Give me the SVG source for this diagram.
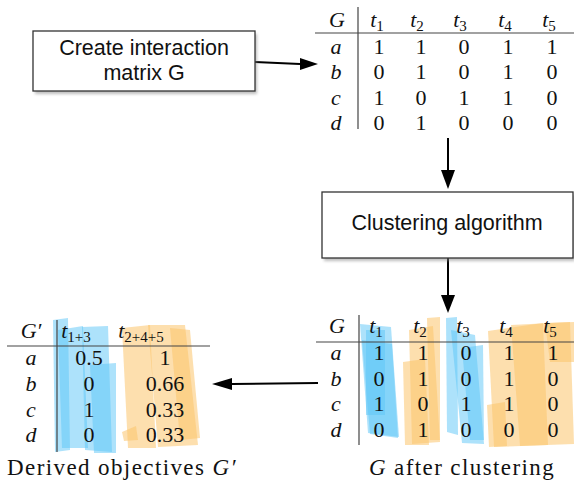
<svg xmlns="http://www.w3.org/2000/svg" width="574" height="481" viewBox="0 0 574 481">
<style>
.box{fill:#fff;stroke:#333;stroke-width:1.3}
.sh{fill:#888;opacity:0.55}
.lbl{font-family:"Liberation Sans",Arial,sans-serif;font-size:21.5px;fill:#111;text-anchor:middle}
.m{font-family:"Liberation Serif","Times New Roman",serif;font-size:22px;fill:#111;text-anchor:middle}
.i{font-style:italic}
.sub{font-size:15px}
.cap{font-size:23px;letter-spacing:1.4px}
.rule{stroke:#444;stroke-width:1.2}
.con{stroke:#000;stroke-width:2;fill:none}
.bl{fill:#5cc6f7;opacity:0.5}
.or{fill:#fbc56c;opacity:0.55}
</style>
<defs>
<filter id="blur" x="-10%" y="-10%" width="120%" height="130%"><feGaussianBlur stdDeviation="1.5"/></filter>
</defs>

<g id="connectors">
<line class="con" x1="255" y1="62" x2="300" y2="64"/>
<path d="M300,58 L318,64 L300,70 Z" fill="#000"/>
<line class="con" x1="448" y1="138" x2="448" y2="170"/>
<path d="M441,170 L448,189 L455,170 Z" fill="#000"/>
<line class="con" x1="448" y1="258" x2="448" y2="295"/>
<path d="M441,295 L448,313 L455,295 Z" fill="#000"/>
<line class="con" x1="318" y1="383" x2="232" y2="384"/>
<path d="M232,378 L212,384 L232,390 Z" fill="#000"/>
</g>

<g id="create-box">
<rect class="sh" x="35" y="34" width="222" height="60" filter="url(#blur)"/>
<rect class="box" x="33" y="31" width="222" height="60"/>
<text class="lbl" x="144" y="55">Create interaction</text>
<text class="lbl" x="144" y="80">matrix G</text>
</g>

<g id="clustering-box">
<rect class="sh" x="324" y="195" width="251" height="66" filter="url(#blur)"/>
<rect class="box" x="322" y="192" width="251" height="66"/>
<text class="lbl" x="447" y="230">Clustering algorithm</text>
</g>

<g id="matrix-G">
<line class="rule" x1="358" y1="7" x2="358" y2="129"/>
<line class="rule" x1="315" y1="33" x2="574" y2="33"/>
<text class="m i" x="337" y="27">G</text>
<text class="m" y="27"><tspan class="i" x="377">t</tspan><tspan class="sub" dy="4">1</tspan></text>
<text class="m" y="27"><tspan class="i" x="417">t</tspan><tspan class="sub" dy="4">2</tspan></text>
<text class="m" y="27"><tspan class="i" x="460">t</tspan><tspan class="sub" dy="4">3</tspan></text>
<text class="m" y="27"><tspan class="i" x="505">t</tspan><tspan class="sub" dy="4">4</tspan></text>
<text class="m" y="27"><tspan class="i" x="549">t</tspan><tspan class="sub" dy="4">5</tspan></text>
<text class="m i" x="336" y="54">a</text><text class="m" x="379" y="54">1</text><text class="m" x="421" y="54">1</text><text class="m" x="464" y="54">0</text><text class="m" x="508" y="54">1</text><text class="m" x="552" y="54">1</text>
<text class="m i" x="336" y="79">b</text><text class="m" x="379" y="79">0</text><text class="m" x="421" y="79">1</text><text class="m" x="464" y="79">0</text><text class="m" x="508" y="79">1</text><text class="m" x="552" y="79">0</text>
<text class="m i" x="336" y="105">c</text><text class="m" x="379" y="105">1</text><text class="m" x="421" y="105">0</text><text class="m" x="464" y="105">1</text><text class="m" x="508" y="105">1</text><text class="m" x="552" y="105">0</text>
<text class="m i" x="336" y="130">d</text><text class="m" x="379" y="130">0</text><text class="m" x="421" y="130">1</text><text class="m" x="464" y="130">0</text><text class="m" x="508" y="130">0</text><text class="m" x="552" y="130">0</text>
</g>

<g id="matrix-G-clustered">
<polygon class="bl" points="360,324 391,327 399,437 368,433"/>
<polygon class="bl" points="362,340 392,344 398,438 370,434"/>
<polygon class="bl" points="366,330 385,330 385,415 366,415"/>
<polygon class="or" points="409,330 433,326 440,442 412,444"/>
<polygon class="or" points="403,362 425,359 429,445 405,445"/>
<polygon class="or" points="427,318 440,317 440,440 430,440"/>
<polygon class="bl" points="446,318 457,317 458,435 447,432"/>
<polygon class="bl" points="451,330 475,335 484,444 462,443"/>
<polygon class="bl" points="462,348 483,345 484,440 470,440"/>
<polygon class="or" points="488,331 543,323 548,445 494,447"/>
<polygon class="or" points="511,325 570,322 574,444 520,446"/>
<polygon class="or" points="487,405 505,402 507,446 489,447"/>
<polygon class="or" points="545,323 574,322 574,362 550,362"/>
<line class="rule" x1="359" y1="315" x2="359" y2="445"/>
<line class="rule" x1="316" y1="342" x2="574" y2="342"/>
<text class="m i" x="337" y="333">G</text>
<text class="m" y="333"><tspan class="i" x="376">t</tspan><tspan class="sub" dy="4">1</tspan></text>
<text class="m" y="333"><tspan class="i" x="420">t</tspan><tspan class="sub" dy="4">2</tspan></text>
<text class="m" y="333"><tspan class="i" x="463">t</tspan><tspan class="sub" dy="4">3</tspan></text>
<text class="m" y="333"><tspan class="i" x="506">t</tspan><tspan class="sub" dy="4">4</tspan></text>
<text class="m" y="333"><tspan class="i" x="550">t</tspan><tspan class="sub" dy="4">5</tspan></text>
<text class="m i" x="336" y="360">a</text><text class="m" x="379" y="360">1</text><text class="m" x="423" y="360">1</text><text class="m" x="466" y="360">0</text><text class="m" x="509" y="360">1</text><text class="m" x="553" y="360">1</text>
<text class="m i" x="336" y="386">b</text><text class="m" x="379" y="386">0</text><text class="m" x="423" y="386">1</text><text class="m" x="466" y="386">0</text><text class="m" x="509" y="386">1</text><text class="m" x="553" y="386">0</text>
<text class="m i" x="336" y="411">c</text><text class="m" x="379" y="411">1</text><text class="m" x="423" y="411">0</text><text class="m" x="466" y="411">1</text><text class="m" x="509" y="411">1</text><text class="m" x="553" y="411">0</text>
<text class="m i" x="336" y="437">d</text><text class="m" x="379" y="437">0</text><text class="m" x="423" y="437">1</text><text class="m" x="466" y="437">0</text><text class="m" x="509" y="437">0</text><text class="m" x="553" y="437">0</text>
<text class="m cap" x="462" y="475"><tspan class="i">G</tspan> after clustering</text>
</g>

<g id="matrix-G-prime">
<polygon class="bl" points="53,320 68,318 70,450 55,452"/>
<polygon class="bl" points="58,330 83,326 88,448 62,448"/>
<polygon class="bl" points="82,327 108,326 112,452 85,450"/>
<polygon class="bl" points="90,365 116,363 116,453 94,453"/>
<polygon class="or" points="122,328 150,325 156,448 128,448"/>
<polygon class="or" points="148,325 185,325 198,445 158,447"/>
<polygon class="or" points="170,328 190,330 200,438 180,440"/>
<polygon class="or" points="122,432 136,426 138,440 124,441"/>
<line class="rule" x1="57" y1="320" x2="57" y2="452"/>
<line class="rule" x1="7" y1="346" x2="210" y2="346"/>
<text class="m i" x="31" y="338">G′</text>
<text class="m" y="338"><tspan class="i" x="76">t</tspan><tspan class="sub" dy="4">1+3</tspan></text>
<text class="m" y="338"><tspan class="i" x="141">t</tspan><tspan class="sub" dy="4">2+4+5</tspan></text>
<text class="m i" x="31" y="365">a</text><text class="m" x="89" y="365">0.5</text><text class="m" x="165" y="365">1</text>
<text class="m i" x="31" y="391">b</text><text class="m" x="89" y="391">0</text><text class="m" x="165" y="391">0.66</text>
<text class="m i" x="31" y="417">c</text><text class="m" x="89" y="417">1</text><text class="m" x="165" y="417">0.33</text>
<text class="m i" x="31" y="442">d</text><text class="m" x="89" y="442">0</text><text class="m" x="165" y="442">0.33</text>
<text class="m cap" x="122" y="475">Derived objectives <tspan class="i">G′</tspan></text>
</g>
</svg>
